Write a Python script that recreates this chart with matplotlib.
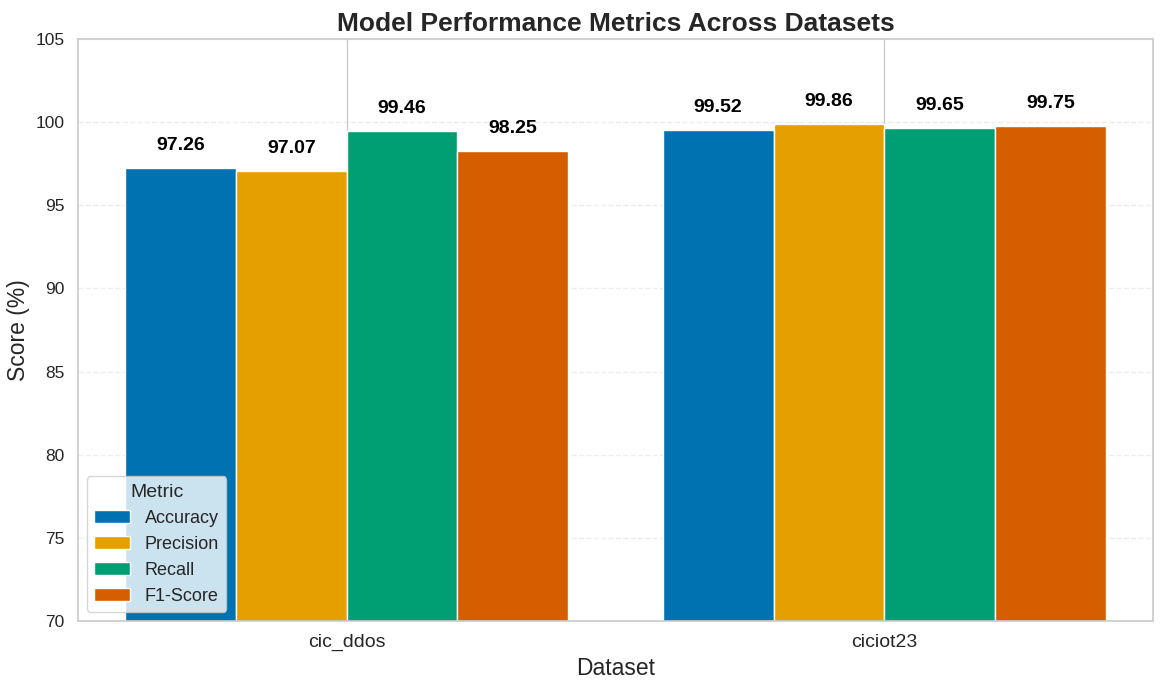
import matplotlib
matplotlib.use("Agg")
import matplotlib.pyplot as plt
import numpy as np
import seaborn as sns


DATASETS = ["cic_ddos", "ciciot23"]
METRICS = ["Accuracy", "Precision", "Recall", "F1-Score"]
ACCURACY = [97.26, 99.52]
PRECISION = [97.07, 99.86]
RECALL = [99.46, 99.65]
F1_SCORE = [98.25, 99.75]


def main():
	sns.set_theme(style="whitegrid")
	plt.rcParams["font.family"] = ["Liberation Sans", "DejaVu Sans"]

	series = [ACCURACY, PRECISION, RECALL, F1_SCORE]
	colors = ["#0072B2", "#E69F00", "#009E73", "#D55E00"]

	fig = plt.figure(figsize=(11.64, 6.84), dpi=100)
	ax = fig.add_axes([78 / 1164, 1 - 621 / 684, (1153 - 78) / 1164, (621 - 39) / 684])

	x_positions = np.arange(len(DATASETS))
	bar_width = 0.206
	for index, (metric, values) in enumerate(zip(METRICS, series)):
		shift = (index - 1.5) * bar_width
		bars = ax.bar(
			x_positions + shift,
			values,
			width=bar_width,
			color=colors[index],
			edgecolor="white",
			linewidth=1,
			label=metric,
			zorder=2,
		)
		for bar, value in zip(bars, values):
			ax.text(
				bar.get_x() + bar.get_width() / 2,
				value + 0.85,
				f"{value:.2f}",
				ha="center",
				va="bottom",
				fontsize=14,
				fontweight="bold",
				color="black",
			)

	ax.set_xlim(-0.5, 1.5)
	ax.set_ylim(70, 105)
	ax.set_xticks(x_positions)
	ax.set_xticklabels(DATASETS)
	ax.tick_params(axis="x", labelsize=14)
	ax.tick_params(axis="y", labelsize=12.5)
	ax.grid(True, axis="y", linestyle="--", alpha=0.35)
	ax.grid(True, axis="x", linestyle="-")
	ax.set_axisbelow(True)

	ax.set_title("Model Performance Metrics Across Datasets", fontsize=19, fontweight="bold", pad=6)
	ax.set_xlabel("Dataset", fontsize=16.5)
	ax.set_ylabel("Score (%)", fontsize=16.5)

	ax.legend(title="Metric", loc="lower left", fontsize=13, title_fontsize=14)

	fig.savefig("out.png", dpi=100)
	plt.close(fig)


if __name__ == "__main__":
	main()
